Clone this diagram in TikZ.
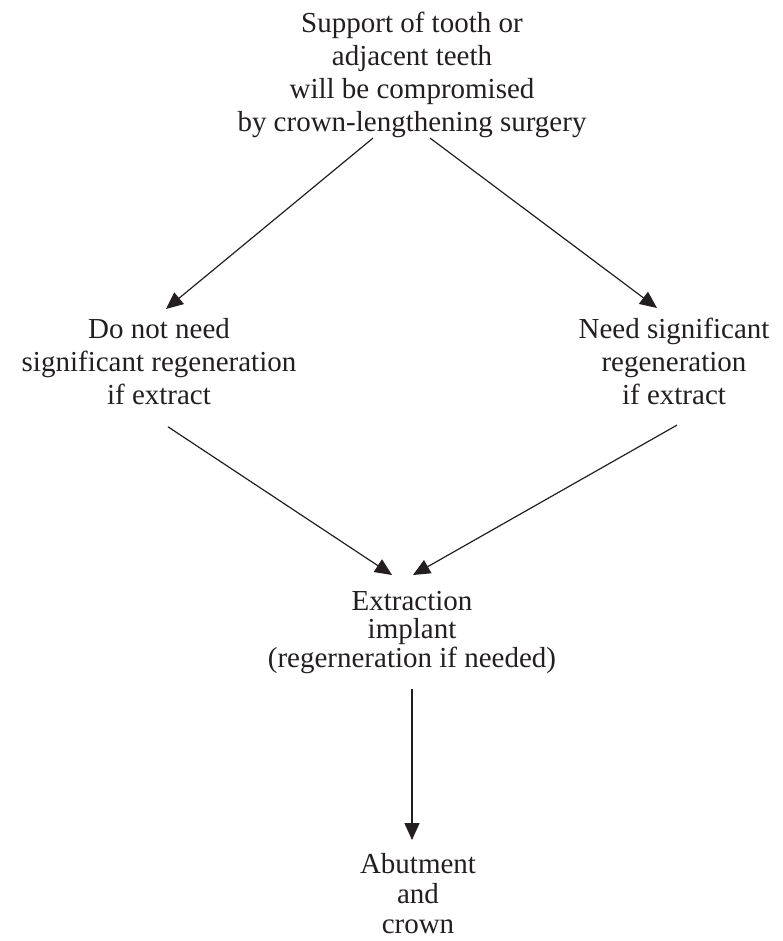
\documentclass[tikz,border=0pt]{standalone}
\usepackage{fontspec}
\setmainfont{Liberation Serif}
\usetikzlibrary{arrows.meta,calc}
\definecolor{ink}{HTML}{231F20}
\tikzset{
  label text/.style={align=center, inner sep=0pt, anchor=north, text=ink,
    font=\fontsize{29pt}{33pt}\selectfont},
  tight text/.style={label text, font=\fontsize{29pt}{28.5pt}\selectfont},
  bottom text/.style={label text, font=\fontsize{29pt}{30pt}\selectfont},
  arr/.style={draw=ink, line width=1.2pt, -{Triangle[length=17pt,width=15pt]}}
}
\begin{document}
\begin{tikzpicture}[x=1pt,y=-1pt]
\useasboundingbox (0,0) rectangle (783,941);

\node[label text] (top) at (412,12)
  {Support of tooth or\\adjacent teeth\\will be compromised\\by crown-lengthening surgery};
\node[label text] (left) at (159,318)
  {Do not need\\significant regeneration\\if extract};
\node[label text] (right) at (674,318)
  {Need significant\\regeneration\\if extract};
\node[tight text] (mid) at (412,591)
  {Extraction\\implant\\(regerneration if needed)};
\node[bottom text] (bot) at (418,853)
  {Abutment\\and\\crown};

\draw[arr] ($(top.south)+(-39,0)$) -- ($(left.north)+(7,-9)$);
\draw[arr] ($(top.south)+(18,0)$) -- ($(right.north)+(-17,-10)$);
\draw[arr] ($(left.south)+(9,22)$) -- ($(mid.north)+(-20,-16)$);
\draw[arr] ($(right.south)+(3,20)$) -- ($(mid.north)+(1,-16)$);
\draw[arr] ($(mid.south)+(0,15)$) -- ($(bot.north)+(-6,-13)$);
\end{tikzpicture}
\end{document}
